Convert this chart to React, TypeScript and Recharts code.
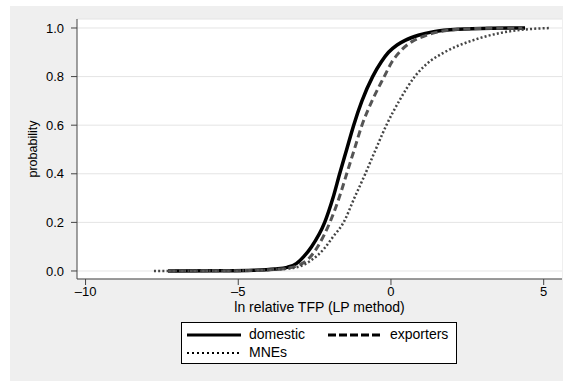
import React from 'react';
import { LineChart, Line, XAxis, YAxis, CartesianGrid, Label } from 'recharts';

const domesticX = [-7.3, -5.5, -4.5, -3.8, -3.4, -3.1, -2.85, -2.6, -2.17, -1.9, -1.68, -1.45, -1.22, -0.95, -0.6, -0.32, -0.08, 0.2, 0.48, 0.9, 1.4, 2.2, 3.3, 4.39];
const domesticY = [0, 0.001, 0.003, 0.008, 0.015, 0.03, 0.06, 0.1, 0.2, 0.3, 0.4, 0.5, 0.6, 0.7, 0.8, 0.86, 0.9, 0.93, 0.95, 0.97, 0.985, 0.995, 0.999, 1.0];

const exportersX = [-7.3, -5.5, -4.5, -3.8, -3.3, -3.0, -2.7, -2.4, -2.0, -1.7, -1.45, -1.2, -0.95, -0.62, -0.22, 0.03, 0.35, 0.7, 1.05, 1.6, 2.4, 3.4, 4.3];
const exportersY = [0, 0.001, 0.002, 0.006, 0.013, 0.025, 0.05, 0.1, 0.2, 0.3, 0.4, 0.5, 0.6, 0.7, 0.8, 0.86, 0.91, 0.945, 0.965, 0.985, 0.996, 0.999, 1.0];

const mnesX = [-7.76, -6.0, -4.8, -4.0, -3.4, -2.95, -2.6, -2.2, -1.9, -1.55, -1.2, -0.84, -0.5, -0.15, 0.27, 0.78, 1.15, 1.75, 2.7, 3.6, 4.1, 4.7, 5.24];
const mnesY = [0, 0.001, 0.002, 0.005, 0.01, 0.02, 0.045, 0.09, 0.14, 0.2, 0.3, 0.4, 0.5, 0.6, 0.7, 0.8, 0.85, 0.9, 0.95, 0.98, 0.99, 0.997, 1.0];

const xTicks = [-10, -5, 0, 5];
const yTicks = [0, 0.2, 0.4, 0.6, 0.8, 1.0];
const seriesNames = ['domestic', 'exporters', 'MNEs'];
const xTitle = 'ln relative TFP (LP method)';
const yTitle = 'probability';

const toPoints = (xs: number[], ys: number[]) => xs.map((x, i) => ({ x, y: ys[i] }));

const domesticData = toPoints(domesticX, domesticY);
const exportersData = toPoints(exportersX, exportersY);
const mnesData = toPoints(mnesX, mnesY);

const FONT = '"Liberation Sans", Arial, Helvetica, sans-serif';
const AXIS = '#444';

const styles = [
  { stroke: '#000', width: 3.5, dash: undefined as string | undefined },
  { stroke: '#555', width: 3, dash: '7 4' },
  { stroke: '#444', width: 2.5, dash: '2 2.2' },
];

const fmtX = (v: number) => (v < 0 ? '\u2013' + Math.abs(v) : String(v));
const fmtY = (v: number) => v.toFixed(1);

function LegendSample({ i }: { i: number }) {
  return (
    <svg width={54} height={6} style={{ display: 'block' }}>
      <line x1={0} y1={3} x2={54} y2={3} stroke="#000" strokeWidth={i === 2 ? 2.2 : 3} strokeDasharray={i === 1 ? '8 3' : i === 2 ? '2 3' : undefined} />
    </svg>
  );
}

export default function App() {
  return (
    <div style={{ position: 'absolute', left: 0, top: 0, width: 565, height: 381, background: '#fff', fontFamily: FONT }}>
      <div style={{ position: 'absolute', left: 10, top: 6, width: 553, height: 375, background: '#efefef' }} />
      <div style={{ position: 'absolute', left: 0, top: 0 }}>
        <LineChart width={565} height={381} margin={{ top: 19, right: 3, left: 0, bottom: 0 }}>
          <CartesianGrid vertical={false} stroke="#e4e4e4" fill="#fff" />
          <XAxis
            dataKey="x"
            type="number"
            domain={[-10.28, 5.6]}
            ticks={xTicks}
            tickFormatter={fmtX}
            allowDataOverflow
            height={102}
            stroke={AXIS}
            tickSize={6}
            tickMargin={2}
            tick={{ fill: '#000', fontSize: 13, fontFamily: FONT }}
          >
            <Label
              content={(props: any) => {
                const vb = props.viewBox;
                return (
                  <text x={vb.x + vb.width / 2} y={vb.y + 33} textAnchor="middle" fontSize={14} fontFamily={FONT} fill="#000">
                    {xTitle}
                  </text>
                );
              }}
            />
          </XAxis>
          <YAxis
            dataKey="y"
            type="number"
            domain={[-0.033, 1.037]}
            ticks={yTicks}
            tickFormatter={fmtY}
            allowDataOverflow
            width={77}
            stroke={AXIS}
            tickSize={6}
            tickMargin={7}
            tick={{ fill: '#000', fontSize: 13, fontFamily: FONT }}
          >
            <Label
              content={() => (
                <text x={33} y={149} transform="rotate(-90 33 149)" textAnchor="middle" dominantBaseline="central" fontSize={12.5} fontFamily={FONT} fill="#000">
                  {yTitle}
                </text>
              )}
            />
          </YAxis>
          <Line data={domesticData} dataKey="y" name={seriesNames[0]} type="monotone" stroke={styles[0].stroke} strokeWidth={styles[0].width} dot={false} isAnimationActive={false} />
          <Line data={exportersData} dataKey="y" name={seriesNames[1]} type="monotone" stroke={styles[1].stroke} strokeWidth={styles[1].width} strokeDasharray={styles[1].dash} dot={false} isAnimationActive={false} />
          <Line data={mnesData} dataKey="y" name={seriesNames[2]} type="monotone" stroke={styles[2].stroke} strokeWidth={styles[2].width} strokeDasharray={styles[2].dash} dot={false} isAnimationActive={false} />
        </LineChart>
      </div>
      <div style={{ position: 'absolute', left: 181, top: 322, width: 274, height: 40, border: '1px solid #000', background: '#fff', fontSize: 14, color: '#000' }}>
        <div style={{ position: 'absolute', left: 5, top: 9 }}><LegendSample i={0} /></div>
        <div style={{ position: 'absolute', left: 67, top: 3, lineHeight: '16px' }}>{seriesNames[0]}</div>
        <div style={{ position: 'absolute', left: 146, top: 9 }}><LegendSample i={1} /></div>
        <div style={{ position: 'absolute', left: 208, top: 3, lineHeight: '16px' }}>{seriesNames[1]}</div>
        <div style={{ position: 'absolute', left: 5, top: 27 }}><LegendSample i={2} /></div>
        <div style={{ position: 'absolute', left: 67, top: 21, lineHeight: '16px' }}>{seriesNames[2]}</div>
      </div>
    </div>
  );
}
